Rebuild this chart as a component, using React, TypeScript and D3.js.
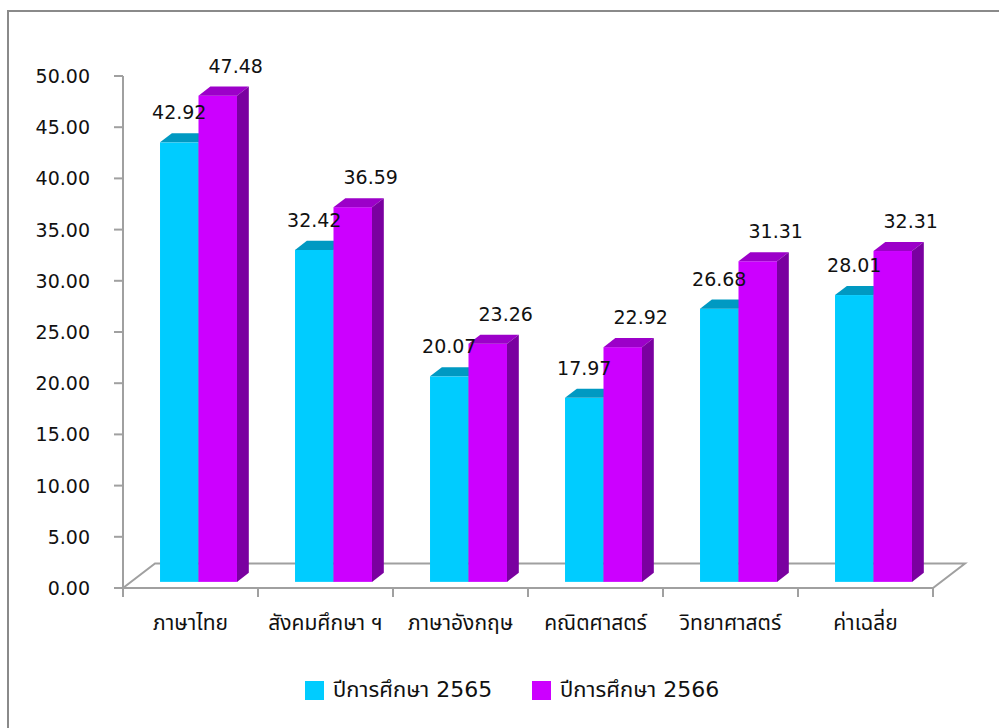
import React from "react";
import * as d3 from "d3";

const categories = ["ภาษาไทย", "สังคมศึกษา ฯ", "ภาษาอังกฤษ", "คณิตศาสตร์", "วิทยาศาสตร์", "ค่าเฉลี่ย"];
const series2565 = [42.92, 32.42, 20.07, 17.97, 26.68, 28.01];
const series2566 = [47.48, 36.59, 23.26, 22.92, 31.31, 32.31];
const seriesNames = ["ปีการศึกษา 2565", "ปีการศึกษา 2566"];
const yTicks = [0, 5, 10, 15, 20, 25, 30, 35, 40, 45, 50];

const W = 999;
const H = 728;
const FONT = "'DejaVu Sans', Tahoma, 'Noto Sans Thai', 'Noto Sans', sans-serif";

const colors = [
  { front: "#00CCFF", top: "#0099C2", side: "#0088AA" },
  { front: "#CC00FF", top: "#9C00C9", side: "#7A00A0" },
];

export default function App() {
  const x0 = 123, x1 = 933, yFloor = 588, yTop = 76;
  const DX = 32, DY = -24.5; // floor depth offset
  const dFront = 0.25, dBack = 0.62;

  const y = d3.scaleLinear().domain([0, 50]).range([yFloor, yTop]);
  const xb = d3.scaleBand<string>().domain(categories).range([x0, x1]).paddingInner(0.43).paddingOuter(0.215);
  const xs = d3.scaleBand<number>().domain([0, 1]).range([0, xb.bandwidth()]);

  const fx = DX * dFront, fy = DY * dFront;
  const bx = DX * dBack, by = DY * dBack;
  const sdx = bx - fx, sdy = by - fy;

  const data = [series2565, series2566];

  const bars: React.ReactNode[] = [];
  const labels: React.ReactNode[] = [];
  categories.forEach((c, i) => {
    data.forEach((s, k) => {
      const v = s[i];
      const left = (xb(c) as number) + (xs(k) as number) + fx;
      const w = xs.bandwidth();
      const base = y(0) + fy;
      const top = y(v) + fy;
      const col = colors[k];
      bars.push(
        <g key={`b${i}-${k}`}>
          <rect x={left} y={top} width={w} height={base - top} fill={col.front} />
          <polygon
            points={`${left},${top} ${left + sdx},${top + sdy} ${left + w + sdx},${top + sdy} ${left + w},${top}`}
            fill={col.top}
          />
          <polygon
            points={`${left + w},${top} ${left + w + sdx},${top + sdy} ${left + w + sdx},${base + sdy} ${left + w},${base}`}
            fill={col.side}
          />
        </g>
      );
      const cx = left + w / 2 + (k === 1 ? 18 : 0);
      labels.push(
        <text key={`l${i}-${k}`} x={cx} y={top - 23} textAnchor="middle" fontSize={19} fill="#111">
          {v.toFixed(2)}
        </text>
      );
    });
  });

  const floor = `${x0},${yFloor} ${x0 + DX},${yFloor + DY} ${x1 + DX},${yFloor + DY} ${x1},${yFloor}`;

  return (
    <svg width={W} height={H} style={{ position: "absolute", left: 0, top: 0 }} fontFamily={FONT}>
      <rect x={0} y={0} width={W} height={H} fill="#fff" />
      <rect x={8} y={11} width={W + 20} height={H + 20} fill="none" stroke="#8a8a8a" strokeWidth={2} />
      {/* floor */}
      <polygon points={floor} fill="none" stroke="#a0a0a0" strokeWidth={2} />
      {/* y axis */}
      <line x1={x0} y1={yTop} x2={x0} y2={yFloor} stroke="#a0a0a0" strokeWidth={2} />
      {yTicks.map((t) => (
        <g key={t}>
          <line x1={x0 - 9} x2={x0} y1={y(t)} y2={y(t)} stroke="#a0a0a0" strokeWidth={2} />
          <text x={90} y={y(t) + 7} textAnchor="end" fontSize={19} fill="#111">
            {t.toFixed(2)}
          </text>
        </g>
      ))}
      {/* x ticks */}
      {categories.concat([""]).map((c, i) => {
        const xx = x0 + (i * (x1 - x0)) / categories.length;
        return <line key={`t${i}`} x1={xx} x2={xx} y1={yFloor} y2={yFloor + 9} stroke="#a0a0a0" strokeWidth={2} />;
      })}
      {categories.map((c) => (
        <text key={c} x={(xb(c) as number) + xb.bandwidth() / 2} y={630} textAnchor="middle" fontSize={21} fill="#111">
          {c}
        </text>
      ))}
      {bars}
      {labels}
      {/* legend */}
      {seriesNames.map((n, k) => {
        const lx = [305, 532][k];
        return (
          <g key={n}>
            <rect x={lx} y={681} width={19} height={19} fill={colors[k].front} />
            <text x={lx + 28} y={697} fontSize={22} fill="#111">
              {n}
            </text>
          </g>
        );
      })}
    </svg>
  );
}
